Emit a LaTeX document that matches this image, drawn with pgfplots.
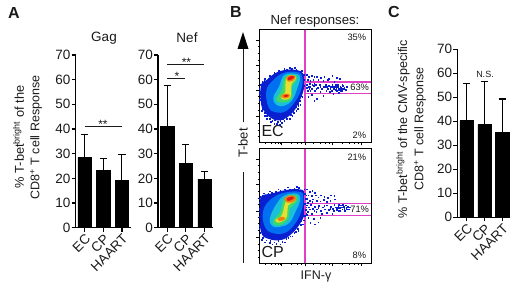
\documentclass[border=0pt]{standalone}
\usepackage{pgfplots}
\pgfplotsset{compat=1.18}
\usepackage{fontspec}
\setmainfont{Liberation Sans}
\definecolor{ink}{HTML}{1A1A1A}
\definecolor{bD}{HTML}{0A1FD0}
\definecolor{bM}{HTML}{0070F0}
\definecolor{bC}{HTML}{18C0D8}
\definecolor{bG}{HTML}{40D868}
\definecolor{bY}{HTML}{E8E030}
\definecolor{bO}{HTML}{F08010}
\definecolor{bR}{HTML}{E01818}
\definecolor{pk}{HTML}{E040C8}
\newcommand{\tf}{\fontsize{13.5}{14}\selectfont}
\pgfplotsset{
  barax/.style={
    scale only axis, ymin=0, ymax=70, ytick={0,10,...,70},
    xmin=-0.49, xmax=2.47, xtick={0,1,2}, xticklabels={EC,CP,HAART},
    axis x line=bottom, axis y line=left, axis line style={-,line width=1.5pt,black},
    tick style={black,line width=1.2pt}, tick align=outside, major tick length=4pt,
    /pgf/number format/assume math mode=true,
    tick label style={font=\tf,text=ink}, ylabel shift=0pt,
    yticklabel style={inner sep=1pt},
    xticklabel style={rotate=45,anchor=north east,inner sep=1pt,font=\tf,text=ink},
    clip=false,
  },
  bars/.style={ybar, bar width=13.3pt, fill=black, draw=black,
    error bars/.cd, y dir=plus, y explicit,
    error bar style={line width=1.1pt,black},
    error mark options={rotate=90,mark size=3.6pt,line width=1.1pt,black}},
  sig/.style={line width=0.7pt,ink,no marks,forget plot},
  flow/.style={
    scale only axis, xmin=12, xmax=348, ymin=12, ymax=353, y dir=reverse,
    width=112pt, axis line style={line width=1pt,black},
    xticklabels={}, yticklabels={}, tick align=outside,
    xtick={80,150,233,318}, minor xtick={30,48,60,70,76,110,128,140,175,195,212,224,262,282,298,310},
    major tick length=2.8pt, minor tick length=1.4pt,
    tick style={black,line width=0.6pt}, xtick pos=lower, ytick pos=left,
    axis on top, clip=true,
  },
  blob/.style={smooth cycle, tension=0.7, draw=none, no marks, fill=#1},
  dots/.style={only marks, mark=square*, mark size=0.36pt, color=bD, mark options={draw=none,fill=bD}},
  pinkf/.style={no marks, sharp plot, draw=none, fill=pk},
}
\begin{document}
\begin{tikzpicture}[x=1pt,y=1pt]
\path[use as bounding box] (0,0) rectangle (520,284);

% Gag
\begin{axis}[barax, at={(75.5pt,56.3pt)}, anchor=south west, width=55.2pt, height=172.7pt]
\addplot[bars] coordinates {(0,28.5) +- (0,9.3) (1,23.3) +- (0,4.6) (2,19.2) +- (0,10.3)};
\addplot[sig] coordinates {(0,40.9) (2,40.9)};
\end{axis}
% Nef
\begin{axis}[barax, at={(158pt,56.3pt)}, anchor=south west, width=55.2pt, height=172.7pt]
\addplot[bars] coordinates {(0,41.2) +- (0,16.4) (1,26) +- (0,7.6) (2,19.7) +- (0,3.1)};
\addplot[sig] coordinates {(0,66.2) (2,66.2)};
\addplot[sig] coordinates {(0,60.4) (0.97,60.4)};
\end{axis}
% C
\begin{axis}[barax, at={(457.3pt,66.7pt)}, anchor=south west, width=52.7pt, height=168pt,
  xmin=-0.52, xmax=2.43]
\addplot[bars] coordinates {(0,40.3) +- (0,15.3) (1,38.6) +- (0,17.9) (2,35.3) +- (0,14)};
\end{axis}

% Flow EC
\begin{axis}[flow, at={(259pt,141.3pt)}, anchor=south west, height=112.7pt, ymin=15,
  ytick={45,120,197,275}, minor ytick={65,85,105,140,160,180,215,235,255,295,315,335}]
\addplot[dots] coordinates {
(18,180)(22,170)(28,165)(15,200)(16,215)(20,235)(24,250)(30,262)(36,272)(44,282)(52,288)(60,284)(68,290)(76,287)(84,280)(92,276)(100,270)(108,268)(114,258)(122,246)(128,236)(134,226)(138,212)(142,198)(146,182)(148,165)(146,148)(136,140)(124,134)(110,132)(96,134)(80,140)(66,148)(52,154)(40,160)(32,172)(26,185)(20,205)(25,225)(72,280)(96,268)(118,252)(130,243)
(40,270)(48,290)(58,295)(66,296)(80,292)(88,288)(104,280)(112,272)(124,256)(30,272)(20,258)(14,225)(13,190)(14,205)(22,190)(30,160)(44,152)(58,142)(72,138)(88,130)(104,128)(120,128)(140,136)(128,250)(136,238)(142,215)(116,264)(96,282)(74,298)(36,280)
(155,150)(162,155)(170,152)(178,156)(186,154)(198,158)(208,155)(222,160)(232,152)(245,158)(255,162)(158,165)(166,168)(175,163)(190,165)(205,168)(218,165)(238,170)
(155,178)(160,184)(165,176)(170,190)(176,182)(182,178)(188,187)(194,180)(200,192)(206,184)(212,178)(218,190)(222,182)(228,186)(232,178)(236,192)(240,184)(244,188)(248,180)(252,194)(256,184)(260,190)(264,182)(268,188)(272,194)(276,184)(230,196)(246,198)(258,198)(238,186)(242,194)(250,186)(254,190)(262,196)(158,196)(166,198)(180,196)(196,200)(214,198)(224,200)(170,210)(178,226)(186,222)(160,215)(205,212)(235,205)(252,204)
(165,184)(172,178)(184,190)(196,186)(210,186)(226,192)(234,184)(246,184)(258,188)(266,192)(274,186)(243,178)(262,178)(156,188)(163,192)(178,176)(216,184)(250,192)};
\addplot[blob=bD] coordinates {(18,180)(35,165)(60,145)(90,135)(125,135)(148,150)(148,185)(135,225)(115,260)(85,283)(55,283)(30,262)(18,235)};
\addplot[blob=bM] coordinates {(34,198)(52,168)(85,144)(125,141)(142,156)(138,195)(120,230)(93,258)(62,262)(40,245)};
\addplot[blob=bC] coordinates {(55,218)(72,185)(88,150)(125,147)(135,160)(125,195)(112,225)(88,242)(65,240)};
\addplot[blob=bG] coordinates {(65,218)(80,195)(88,160)(105,150)(124,152)(124,168)(112,185)(110,222)(88,232)(68,230)};
\addplot[blob=bY] coordinates {(78,212)(90,203)(92,170)(100,152)(121,153)(120,166)(110,176)(108,205)(104,220)(84,224)};
\addplot[blob=bO] coordinates {(94,158)(108,150)(121,155)(116,166)(100,170)};
\addplot[blob=bO] coordinates {(78,212)(92,206)(104,209)(102,217)(86,220)};
\addplot[blob=bR] coordinates {(99,158)(110,153)(118,156)(110,163)(100,165)};
\addplot[blob=bR] coordinates {(86,212)(96,209)(100,212)(92,216)};
\addplot[pinkf] coordinates {(147.5,15) (152.5,15) (152.5,353) (147.5,353)} -- cycle;
\addplot[pinkf] coordinates {(150,168) (348,168) (348,172.5) (150,172.5)} -- cycle;
\addplot[pinkf] coordinates {(150,203) (348,203) (348,207.5) (150,207.5)} -- cycle;
\node[font=\fontsize{9.3}{10}\selectfont,text=ink,anchor=east] at (axis cs:344,36) {35\%};
\node[font=\fontsize{9.3}{10}\selectfont,text=ink,anchor=east,fill=white,inner sep=0.5pt] at (axis cs:344,187) {63\%};
\node[font=\fontsize{9.3}{10}\selectfont,text=ink,anchor=east] at (axis cs:344,330) {2\%};
\node[font=\fontsize{16}{16}\selectfont,text=ink,anchor=west,inner sep=0pt] at (axis cs:19,319) {EC};
\end{axis}

% Flow CP
\begin{axis}[flow, at={(259pt,20.7pt)}, anchor=south west, height=114.3pt,
  ytick={42,118,197,275}, minor ytick={62,82,102,138,158,178,215,235,255,295,315,335}]
\addplot[dots] coordinates {
(16,155)(22,150)(30,150)(40,146)(50,142)(62,140)(76,136)(90,132)(104,132)(118,130)(132,128)(142,136)(150,146)(152,160)(150,176)(152,194)(150,210)(146,224)(138,238)(128,250)(118,262)(106,272)(94,280)(82,288)(70,286)(58,290)(46,286)(34,284)(24,276)(16,262)(14,240)(13,215)(15,190)(14,172)(44,292)(64,294)(100,276)(122,258)(138,226)
(20,282)(30,290)(52,296)(76,296)(90,290)(112,272)(130,256)(144,236)(13,250)(13,200)(13,160)(26,144)(44,138)(70,132)(98,126)(126,124)(148,132)(154,150)(154,186)(154,204)
(156,132)(164,140)(172,136)(180,142)(160,150)(170,152)(182,150)(190,156)(198,150)(208,154)(218,158)(228,150)(238,152)(240,162)(156,160)(164,166)(174,162)(186,166)(196,168)(206,164)(216,170)(226,166)
(156,180)(162,186)(168,178)(174,190)(180,184)(186,192)(192,182)(198,196)(204,186)(210,192)(216,180)(222,194)(228,184)(234,190)(238,178)(242,186)(246,194)(250,182)(254,188)(258,180)(262,192)(266,184)(270,196)(274,188)(278,184)(282,192)(236,196)(256,196)(264,178)(248,188)(252,196)(268,190)(272,180)(158,200)(170,204)(184,200)(200,205)(216,202)(232,206)(160,216)(176,220)(190,230)(196,218)(180,236)(166,232)(156,208)
(165,192)(178,196)(190,188)(208,182)(226,190)(244,190)(260,186)(268,196)(276,192)(284,186)(252,178)(158,172)(172,170)};
\addplot[blob=bD] coordinates {(18,155)(50,145)(90,135)(130,132)(150,145)(150,200)(135,235)(110,265)(80,283)(40,280)(18,260)(15,200)};
\addplot[blob=bM] coordinates {(25,195)(50,160)(90,142)(135,140)(145,155)(140,195)(120,235)(90,262)(50,262)(28,240)};
\addplot[blob=bC] coordinates {(45,218)(65,175)(90,150)(128,146)(135,165)(122,198)(103,232)(75,244)(52,242)};
\addplot[blob=bG] coordinates {(55,225)(75,200)(85,165)(105,150)(125,152)(125,170)(105,190)(100,220)(80,238)(60,238)};
\addplot[blob=bY] coordinates {(62,222)(80,210)(92,170)(108,153)(122,157)(118,170)(100,180)(95,215)(78,230)(65,230)};
\addplot[blob=bO] coordinates {(88,160)(105,150)(122,155)(118,168)(98,172)};
\addplot[blob=bO] coordinates {(68,220)(80,214)(90,218)(84,225)(72,226)};
\addplot[blob=bR] coordinates {(95,160)(108,154)(117,157)(108,165)(96,166)};
\addplot[pinkf] coordinates {(147.5,12) (152.5,12) (152.5,353) (147.5,353)} -- cycle;
\addplot[pinkf] coordinates {(150,173) (348,173) (348,177.5) (150,177.5)} -- cycle;
\addplot[pinkf] coordinates {(150,208) (348,208) (348,212.5) (150,212.5)} -- cycle;
\node[font=\fontsize{9.3}{10}\selectfont,text=ink,anchor=east] at (axis cs:344,36) {21\%};
\node[font=\fontsize{9.3}{10}\selectfont,text=ink,anchor=east,fill=white,inner sep=0.5pt] at (axis cs:344,193) {71\%};
\node[font=\fontsize{9.3}{10}\selectfont,text=ink,anchor=east] at (axis cs:344,328) {8\%};
\node[font=\fontsize{16}{16}\selectfont,text=ink,anchor=west,inner sep=0pt] at (axis cs:19,319) {CP};
\end{axis}

% Text
\tikzset{t/.style={text=ink,inner sep=0pt,font=\fontsize{#1}{#1}\selectfont}}
\node[t=16,font=\fontsize{16}{16}\selectfont\bfseries] at (14,271) {A};
\node[t=16,font=\fontsize{16}{16}\selectfont\bfseries] at (236,272) {B};
\node[t=16,font=\fontsize{16}{16}\selectfont\bfseries] at (394,272) {C};
\node[t=13.5] at (104,246) {Gag};
\node[t=13.5] at (187,246) {Nef};
\node[t=12] at (103,160) {**};
\node[t=12] at (186.5,221.5) {**};
\node[t=12] at (177,207.5) {*};
\node[t=12.8,rotate=90] at (18.5,147) {\% T-bet\textsuperscript{bright} of the};
\node[t=12.5,rotate=90] at (36,146.5) {CD8\textsuperscript{+} T cell Response};
\node[t=13.2] at (315,263.3) {Nef responses:};
\node[t=13,rotate=90] at (243,141) {T-bet};
\draw[line width=1pt,ink] (243,161.5) -- (243,235);
\path[fill=black] (243,252) -- (237.5,235) -- (248.5,235) -- cycle;
\draw[line width=1pt,ink] (243,112) -- (243,21);
\node[t=12.5] at (316,8) {IFN-γ};
\node[t=9] at (485,210) {N.S.};
\node[t=12.6,rotate=90] at (403,155) {\% T-bet\textsuperscript{bright} of the CMV-specific};
\node[t=12.5,rotate=90] at (420,155) {CD8\textsuperscript{+} T cell Response};
\end{tikzpicture}
\end{document}
